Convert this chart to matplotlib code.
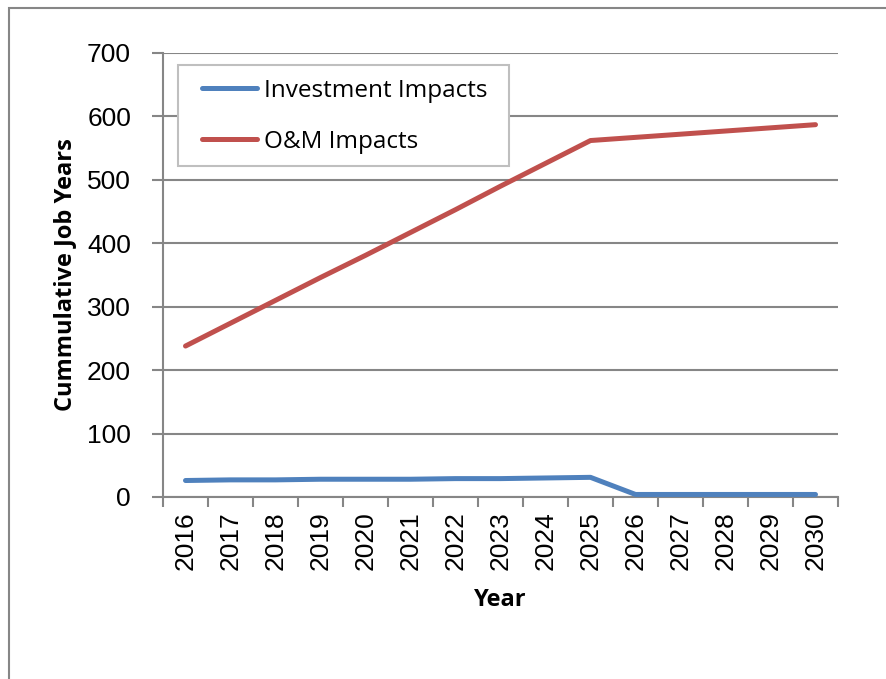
import matplotlib
matplotlib.use("Agg")
import matplotlib.pyplot as plt
from matplotlib.patches import Rectangle

years = ["2016", "2017", "2018", "2019", "2020", "2021", "2022", "2023",
         "2024", "2025", "2026", "2027", "2028", "2029", "2030"]
investment = [26, 27, 27, 28, 28, 28, 29, 29, 30, 31, 4, 4, 4, 4, 4]
om = [238, 274, 310, 346, 381, 417, 453, 490, 526, 562, 567, 572, 577, 582, 587]
y_ticks = [0, 100, 200, 300, 400, 500, 600, 700]

W, H = 886, 679
fig = plt.figure(figsize=(W / 100, H / 100), dpi=100)
fig.patch.set_facecolor("white")

# outer frame
fig.add_artist(Rectangle((9 / W, -0.05), (W + 20) / W, 1 - 8 / H + 0.05,
                         transform=fig.transFigure, fill=False,
                         edgecolor="#868686", linewidth=1.5))

ax = fig.add_axes([163 / W, 1 - 497 / H, (838 - 163) / W, (497 - 53) / H])
x = list(range(len(years)))
grid_c = "#868686"

ax.plot(x, investment, color="#4F81BD", linewidth=3.6, solid_capstyle="round",
        label="Investment Impacts", zorder=3)
ax.plot(x, om, color="#C0504D", linewidth=3.6, solid_capstyle="round",
        label="O&M Impacts", zorder=3)

ax.set_xlim(-0.5, len(years) - 0.5)
ax.set_ylim(0, 700)
ax.set_yticks(y_ticks)
ax.set_yticklabels([str(v) for v in y_ticks], fontsize=19, family="Liberation Sans")
ax.yaxis.grid(True, color=grid_c, linewidth=1.5)
ax.set_axisbelow(True)

ax.set_xticks([i - 0.5 for i in range(len(years) + 1)], minor=False)
ax.set_xticklabels([""] * (len(years) + 1))
ax.set_xticks(x, minor=True)
ax.set_xticklabels(years, minor=True, rotation=90, fontsize=19, family="Liberation Sans")
ax.tick_params(axis="x", which="minor", length=0, pad=10)
ax.tick_params(axis="x", which="major", length=7, width=1.5, color=grid_c)
ax.tick_params(axis="y", length=8, width=1.5, color=grid_c, pad=15)

for s in ["top", "right"]:
    ax.spines[s].set_visible(False)
for s in ["left", "bottom"]:
    ax.spines[s].set_color(grid_c)
    ax.spines[s].set_linewidth(1.5)

ax.set_ylabel("Cummulative Job Years", fontsize=17, fontweight="bold", family="Open Sans")
ax.set_xlabel("Year", fontsize=17, fontweight="bold", family="Open Sans")
ax.yaxis.set_label_coords(-0.148 + 14 / 675, 0.5)
ax.xaxis.set_label_coords(0.5, -0.205)

# legend frame box
ax.add_patch(Rectangle((178 / W, 1 - 166 / H), (509 - 178) / W, (166 - 65) / H,
                       transform=fig.transFigure, facecolor="white",
                       edgecolor="#BFBFBF", linewidth=1.5, zorder=4))
leg = fig.legend(*ax.get_legend_handles_labels(), loc="upper left",
                 bbox_to_anchor=(202 / W, 1 - 79 / H),
                 prop={"family": "Open Sans", "size": 17.5}, frameon=False,
                 handlelength=2.26, handletextpad=0.3, labelspacing=1.1,
                 borderpad=0, borderaxespad=0)
leg.set_zorder(5)

fig.savefig("out.png", dpi=100, facecolor="white")
